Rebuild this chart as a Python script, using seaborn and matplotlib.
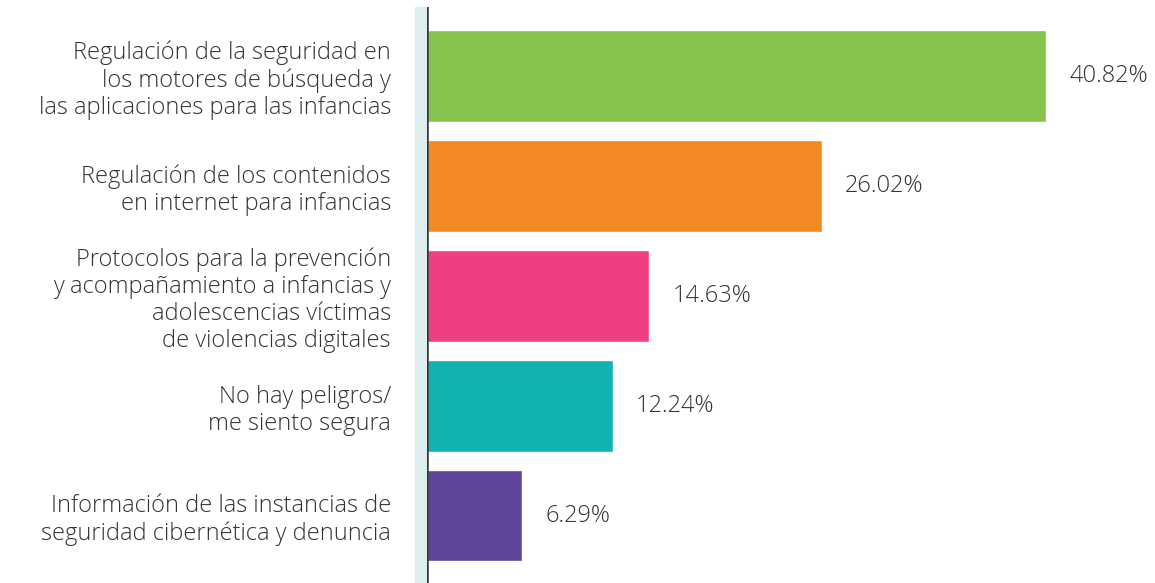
import pandas as pd
import seaborn as sns
import matplotlib.pyplot as plt
from matplotlib.patches import Rectangle

categories = [
    "Regulación de la seguridad en\nlos motores de búsqueda y\nlas aplicaciones para las infancias",
    "Regulación de los contenidos\nen internet para infancias",
    "Protocolos para la prevención\ny acompañamiento a infancias y\nadolescencias víctimas\nde violencias digitales",
    "No hay peligros/\nme siento segura",
    "Información de las instancias de\nseguridad cibernética y denuncia",
]
values = [40.82, 26.02, 14.63, 12.24, 6.29]
value_labels = ["40.82%", "26.02%", "14.63%", "12.24%", "6.29%"]
colors = ["#86c44e", "#f38a23", "#ee3f84", "#10b3b0", "#61459b"]

data = pd.DataFrame({"categoria": categories, "valor": values})

sns.set_style("white")
plt.rcParams['font.family'] = ['Open Sans', 'DejaVu Sans']

fig = plt.figure(figsize=(11.55, 5.83), dpi=100)
ax = fig.add_axes([427 / 1155, 0, 1 - 427 / 1155, 1 - 7 / 583])

sns.barplot(data=data, x="valor", y="categoria", hue="categoria",
            palette=colors, saturation=1, orient="h", width=0.835,
            legend=False, ax=ax)

ax.set_xlim(0, 48.0)
ax.set_ylim(4.614, -0.627)

# value labels to the right of the bars
for i, v in enumerate(values):
    ax.text(v + 1.55, i, value_labels[i], va="center", ha="left",
            fontsize=17, color="#333333", fontweight="light")

# light band left of the axis line
ax.add_patch(Rectangle((-0.8, 0), 0.8, 1, transform=ax.get_xaxis_transform(),
                       color="#deeeee", clip_on=False, zorder=0))
ax.axvline(0, color="#333333", linewidth=1.8)

for s in ["top", "right", "bottom", "left"]:
    ax.spines[s].set_visible(False)
ax.set_xticks([])
ax.set_xlabel("")
ax.set_ylabel("")
ax.tick_params(axis="y", length=0, pad=26)
for lab in ax.get_yticklabels():
    lab.set_fontsize(17)
    lab.set_fontweight("light")
    lab.set_color("#333333")
    lab.set_multialignment("right")
    lab.set_linespacing(1.17)

fig.savefig("out.png", dpi=100)
